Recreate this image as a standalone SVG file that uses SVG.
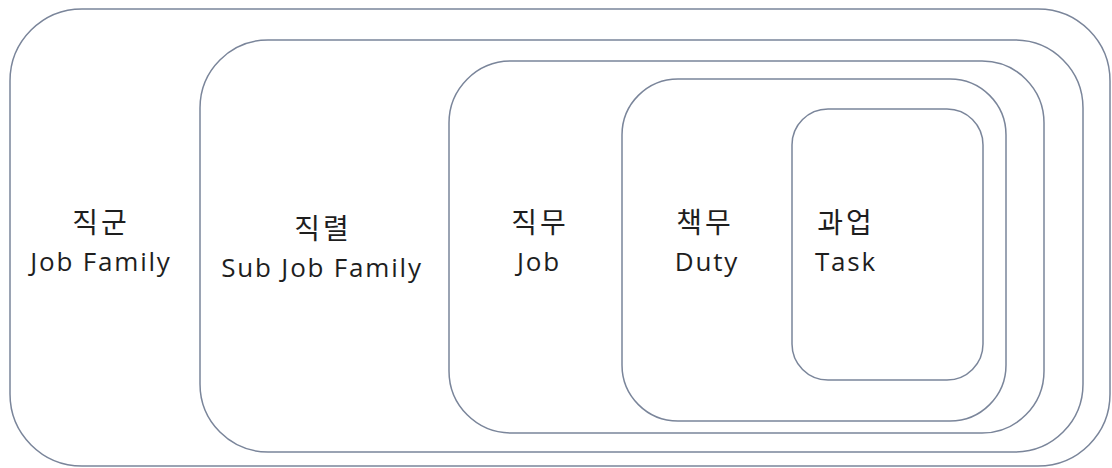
<svg xmlns="http://www.w3.org/2000/svg" width="1112" height="468" viewBox="0 0 1112 468">
<style>
.box{fill:none;stroke:#7a859a;stroke-width:1.5}
.t{font-family:"Open Sans","Noto Sans CJK KR",sans-serif;font-size:26px;letter-spacing:1.8px;fill:#1e1e1e;text-anchor:middle}
.k{font-size:28px;letter-spacing:3px}
</style>
<rect width="1112" height="468" fill="#ffffff"/>
<g id="job-family">
<rect class="box" x="10" y="9" width="1100" height="457" rx="72" ry="72"/>
<text class="t"><tspan class="k" x="101" y="233">직군</tspan><tspan x="101" y="271">Job Family</tspan></text>
</g>
<g id="sub-job-family">
<rect class="box" x="200" y="40" width="883" height="412" rx="68" ry="68"/>
<text class="t"><tspan class="k" x="323" y="239">직렬</tspan><tspan x="322" y="277">Sub Job Family</tspan></text>
</g>
<g id="job">
<rect class="box" x="449" y="61" width="595" height="372" rx="62" ry="62"/>
<text class="t"><tspan class="k" x="540" y="233">직무</tspan><tspan x="539" y="271">Job</tspan></text>
</g>
<g id="duty">
<rect class="box" x="622" y="79" width="384" height="342" rx="56" ry="56"/>
<text class="t"><tspan class="k" x="705" y="233">책무</tspan><tspan x="707" y="271">Duty</tspan></text>
</g>
<g id="task">
<rect class="box" x="792" y="109" width="191" height="271" rx="36" ry="36"/>
<text class="t"><tspan class="k" x="846" y="233">과업</tspan><tspan x="846" y="271">Task</tspan></text>
</g>
<g id="connectors"></g>
</svg>
